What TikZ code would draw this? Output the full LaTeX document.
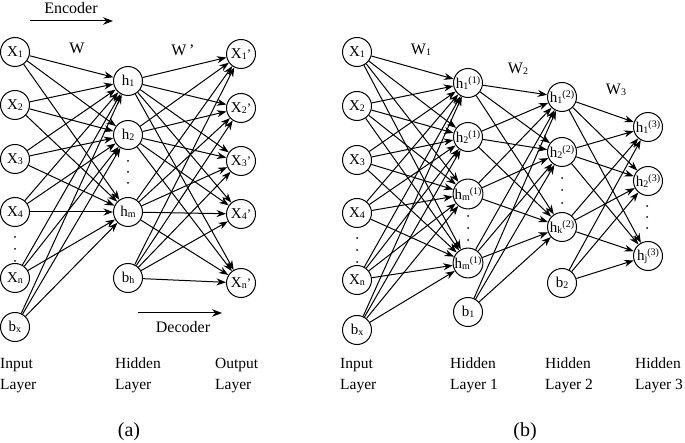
\documentclass[tikz,border=0pt]{standalone}
\usepackage{fontspec}
\setmainfont{Liberation Serif}
\usetikzlibrary{arrows.meta}
\newcommand\sbs[1]{\raisebox{-0.2ex}{\fontsize{10}{10}\selectfont #1}}
\newcommand\sps[1]{\raisebox{0.7ex}{\fontsize{10}{10}\selectfont #1}}
\newcommand\prm{{\fontsize{13}{13}\selectfont ’}}
\begin{document}
\begin{tikzpicture}[x=1pt,y=-1pt,
  neuron/.style={circle,draw,line width=1pt,minimum size=29pt,inner sep=0pt,font=\fontsize{15}{15}\selectfont},
  conn/.style={line width=1pt,-{Stealth[length=9.5pt,width=7pt]}},
  lbl/.style={font=\fontsize{16}{16}\selectfont,inner sep=0pt},
  layerlbl/.style={font=\fontsize{15.5}{21}\selectfont,align=left,anchor=north west,inner sep=0pt},
  caplbl/.style={font=\fontsize{20}{20}\selectfont,inner sep=0pt}]
\useasboundingbox (0,0) rectangle (685,443);
% ---------- (a) ----------
\node[neuron] (ax1) at (15,52) {X\sbs{1}};
\node[neuron] (ax2) at (15,105) {X\sbs{2}};
\node[neuron] (ax3) at (15,159) {X\sbs{3}};
\node[neuron] (ax4) at (15,212) {X\sbs{4}};
\node[neuron] (axn) at (15,278) {X\sbs{n}};
\node[neuron] (abx) at (15,327) {b\sbs{x}};
\node[neuron] (ah1) at (128,81) {h\sbs{1}};
\node[neuron] (ah2) at (128,135) {h\sbs{2}};
\node[neuron] (ahm) at (128,212) {h\sbs{m}};
\node[neuron] (abh) at (128,278) {b\sbs{h}};
\node[neuron] (ao1) at (241,54) {X\sbs{1}\prm};
\node[neuron] (ao2) at (241,108) {X\sbs{2}\prm};
\node[neuron] (ao3) at (241,161) {X\sbs{3}\prm};
\node[neuron] (ao4) at (241,214) {X\sbs{4}\prm};
\node[neuron] (aon) at (241,283) {X\sbs{n}\prm};
\foreach \s in {ax1,ax2,ax3,ax4,axn,abx}
  \foreach \t in {ah1,ah2,ahm}
    \draw[conn] (\s) -- (\t);
\foreach \s in {ah1,ah2,ahm,abh}
  \foreach \t in {ao1,ao2,ao3,ao4,aon}
    \draw[conn] (\s) -- (\t);
\foreach \y in {237,249,261} \fill (15,\y) circle (1);
\foreach \y in {161,172,183} \fill (128,\y) circle (1);
\node[lbl] (aW) at (77,48) {W};
\node[lbl] (aWp) at (183,50) {W\,’};
\node[lbl] (enc) at (71,8) {Encoder};
\coordinate (encA) at (30,21);
\coordinate (encB) at (113,21);
\draw[line width=1pt,-{Stealth[length=10pt,width=7.5pt]}] (encA) -- (encB);
\coordinate (decA) at (138,313);
\coordinate (decB) at (222,313);
\draw[line width=1pt,-{Stealth[length=10pt,width=7.5pt]}] (decA) -- (decB);
\node[lbl] (dec) at (183,327) {Decoder};
\node[layerlbl] (aL1) at (0,358) {Input\\Layer};
\node[layerlbl] (aL2) at (115,358) {Hidden\\Layer};
\node[layerlbl] (aL3) at (215,358) {Output\\Layer};
\node[caplbl] (capa) at (129,432) {(a)};
% ---------- (b) ----------
\node[neuron] (bx1) at (357,52) {X\sbs{1}};
\node[neuron] (bx2) at (357,106) {X\sbs{2}};
\node[neuron] (bx3) at (357,160) {X\sbs{3}};
\node[neuron] (bx4) at (357,213) {X\sbs{4}};
\node[neuron] (bxn) at (357,280) {X\sbs{n}};
\node[neuron] (bbx) at (357,330) {b\sbs{x}};
\node[neuron] (p1) at (468,83) {h\sbs{1}\sps{(1)}};
\node[neuron] (p2) at (468,137) {h\sbs{2}\sps{(1)}};
\node[neuron] (p3) at (468,194) {h\sbs{m}\sps{(1)}};
\node[neuron] (p4) at (468,263) {h\sbs{m}\sps{(1)}};
\node[neuron] (pb) at (468,312) {b\sbs{1}};
\node[neuron] (q1) at (562,97) {h\sbs{1}\sps{(2)}};
\node[neuron] (q2) at (562,152) {h\sbs{2}\sps{(2)}};
\node[neuron] (q3) at (562,227) {h\sbs{k}\sps{(2)}};
\node[neuron] (qb) at (562,283) {b\sbs{2}};
\node[neuron] (r1) at (648,127) {h\sbs{1}\sps{(3)}};
\node[neuron] (r2) at (648,181) {h\sbs{2}\sps{(3)}};
\node[neuron] (r3) at (648,256) {h\sbs{j}\sps{(3)}};
\foreach \s in {bx1,bx2,bx3,bx4,bxn,bbx}
  \foreach \t in {p1,p2,p3,p4}
    \draw[conn] (\s) -- (\t);
\foreach \s in {p1,p2,p3,p4,pb}
  \foreach \t in {q1,q2,q3}
    \draw[conn] (\s) -- (\t);
\foreach \s in {q1,q2,q3,qb}
  \foreach \t in {r1,r2,r3}
    \draw[conn] (\s) -- (\t);
\foreach \y in {238,250,262} \fill (357,\y) circle (1);
\foreach \y in {216,228,240} \fill (468,\y) circle (1);
\foreach \y in {178,190,203} \fill (562,\y) circle (1);
\foreach \y in {206,217,228} \fill (647,\y) circle (1);
\node[lbl] (bW1) at (421,50) {W\sbs{1}};
\node[lbl] (bW2) at (518,69) {W\sbs{2}};
\node[lbl] (bW3) at (616,90) {W\sbs{3}};
\node[layerlbl] (bL1) at (340,358) {Input\\Layer};
\node[layerlbl] (bL2) at (450,358) {Hidden\\Layer 1};
\node[layerlbl] (bL3) at (545,358) {Hidden\\Layer 2};
\node[layerlbl] (bL4) at (635,358) {Hidden\\Layer 3};
\node[caplbl] (capb) at (525,432) {(b)};
\end{tikzpicture}
\end{document}
